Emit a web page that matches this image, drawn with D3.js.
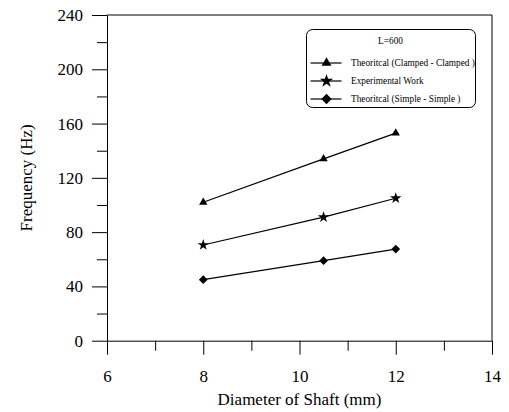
<!DOCTYPE html>
<html>
  <head>
    <meta charset="utf-8">
    <title>Frequency vs shaft diameter</title>
    <script src="https://d3js.org/d3.v7.min.js"></script>
    <style>
      body { margin: 0; background: #fff; }
      svg, svg text { font-family: "Liberation Serif", "Times New Roman", serif; }
      svg { display: block; }
    </style>
  </head>
  <body>
    <div id="chart"></div>

    <script>
      // data
      diameters = [8, 10.5, 12];
      clampedFreq = [102, 134, 153];
      experimentalFreq = [70.5, 91, 105];
      simpleFreq = [45, 59, 67.5];

      seriesNames = ["Theoritcal (Clamped - Clamped )", "Experimental Work", "Theoritcal (Simple - Simple )"];
      xTicks = [6, 8, 10, 12, 14];
      xMinorTicks = [7, 9, 11, 13];
      yTicks = [0, 40, 80, 120, 160, 200, 240];
      yMinorTicks = [20, 60, 100, 140, 180, 220];

      width = 509;
      height = 412;
      margin = { top: 15, right: 17, bottom: 71.3, left: 107 };

      svg = d3.select("#chart")
        .append("svg")
          .attr("width", width)
          .attr("height", height);

      x = d3.scaleLinear()
        .domain([6, 14])
        .range([margin.left, width - margin.right]);
      y = d3.scaleLinear()
        .domain([0, 240])
        .range([height - margin.bottom, margin.top]);

      // frame (top + right)
      svg.append("path")
        .attr("d", "M" + x(6) + "," + y(240) + "H" + x(14) + "V" + y(0))
        .attr("fill", "none")
        .attr("stroke", "#000");

      // x axis: minor then major
      svg.append("g")
        .attr("transform", "translate(0," + y(0) + ")")
        .call(d3.axisBottom(x).tickValues(xMinorTicks).tickSize(10).tickSizeOuter(0).tickFormat(""))
        .call(function(g) { g.select(".domain").remove(); });
      xAxis = svg.append("g")
        .attr("transform", "translate(0," + y(0) + ")")
        .call(d3.axisBottom(x).tickValues(xTicks).tickSize(14).tickSizeOuter(0).tickPadding(15).tickFormat(d3.format("d")));

      // y axis
      svg.append("g")
        .attr("transform", "translate(" + x(6) + ",0)")
        .call(d3.axisLeft(y).tickValues(yMinorTicks).tickSize(10).tickSizeOuter(0).tickFormat(""))
        .call(function(g) { g.select(".domain").remove(); });
      yAxis = svg.append("g")
        .attr("transform", "translate(" + x(6) + ",0)")
        .call(d3.axisLeft(y).tickValues(yTicks).tickSize(15).tickSizeOuter(0).tickPadding(9).tickFormat(d3.format("d")));

      svg.selectAll("g")
        .attr("font-family", null)
        .attr("font-size", null);
      svg.selectAll(".tick text")
        .style("font-family", "'Liberation Serif', serif")
        .style("font-size", "17px")
        .attr("fill", "#000");
      svg.selectAll(".tick line, .domain").attr("stroke", "#000");

      // axis titles
      svg.append("text")
        .attr("x", (x(6) + x(14)) / 2)
        .attr("y", 405)
        .attr("text-anchor", "middle")
        .attr("font-size", 17)
        .text("Diameter of Shaft (mm)");
      svg.append("text")
        .attr("transform", "translate(31.5," + (y(0) + y(240)) / 2 + ") rotate(-90)")
        .attr("text-anchor", "middle")
        .attr("font-size", 17)
        .text("Frequency (Hz)");

      // markers
      symbols = [
        { shape: d3.symbolTriangle, size: 30, rot: 0 },
        { shape: d3.symbolStar, size: 40, rot: 0 },
        { shape: d3.symbolSquare, size: 38, rot: 45 }
      ];
      allSeries = [clampedFreq, experimentalFreq, simpleFreq];

      line = d3.line()
        .x(function(d) { return x(d[0]); })
        .y(function(d) { return y(d[1]); });

      allSeries.forEach(function(vals, i) {
        let pts = diameters.map(function(d, j) { return [d, vals[j]]; });
        svg.append("path")
          .datum(pts)
          .attr("d", line)
          .attr("fill", "none")
          .attr("stroke", "#000")
          .attr("stroke-width", 1.2);
        svg.selectAll(".m" + i)
          .data(pts)
          .enter().append("path")
            .attr("class", "m" + i)
            .attr("d", d3.symbol().type(symbols[i].shape).size(symbols[i].size))
            .attr("transform", function(d) {
              return "translate(" + x(d[0]) + "," + y(d[1]) + ") rotate(" + symbols[i].rot + ")";
            })
            .attr("fill", "#000");
      });

      // legend
      legend = svg.append("g");
      legend.append("rect")
        .attr("x", 306.5)
        .attr("y", 29.5)
        .attr("width", 169)
        .attr("height", 78)
        .attr("rx", 6)
        .attr("fill", "#fff")
        .attr("stroke", "#000");
      legend.append("text")
        .attr("x", 390.5)
        .attr("y", 44)
        .attr("text-anchor", "middle")
        .attr("font-size", 9.3)
        .text("L=600");
      seriesNames.forEach(function(name, i) {
        let cy = 63 + i * 18;
        legend.append("line")
          .attr("x1", 310.5).attr("x2", 341.5)
          .attr("y1", cy).attr("y2", cy)
          .attr("stroke", "#000")
          .attr("stroke-width", 1.2);
        legend.append("path")
          .attr("d", d3.symbol().type(symbols[i].shape).size(symbols[i].size * 1.4))
          .attr("transform", "translate(326.5," + cy + ") rotate(" + symbols[i].rot + ")")
          .attr("fill", "#000");
        legend.append("text")
          .attr("x", 351)
          .attr("y", cy + 3)
          .attr("font-size", 9.3)
          .text(name);
      });
    </script>
  </body>
</html>
